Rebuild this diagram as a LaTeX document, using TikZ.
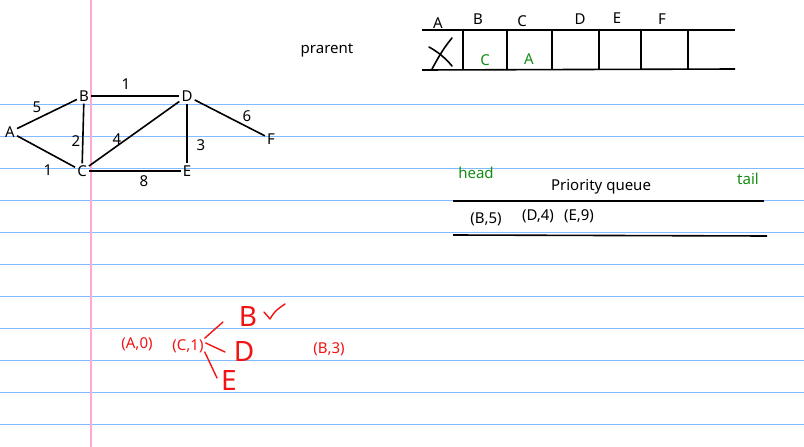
\documentclass[tikz,border=0pt]{standalone}
\usepackage{fontspec}
\setmainfont{Noto Sans}
\usetikzlibrary{calc, positioning}
\usepackage{xcolor}
\definecolor{ruled}{RGB}{128, 188, 255}
\definecolor{margin}{RGB}{255, 168, 212}
\definecolor{pen}{RGB}{240, 20, 20}
\definecolor{note}{RGB}{20, 140, 20}

\begin{document}
\begin{tikzpicture}[x=1pt, y=-1pt, font=\fontsize{15}{18}\selectfont,
  vtx/.style={inner sep=2pt},
  wt/.style={inner sep=1pt},
  edge/.style={line width=1.6pt},
  hand/.style={pen, line width=1.4pt, line cap=round, line join=round},
  big/.style={pen, inner sep=1pt, font=\fontsize{28}{30}\selectfont}]
  % paper
  \useasboundingbox (0,0) rectangle (804,447);
  \fill[white] (0,0) rectangle (804,447);
  \foreach \y in {104,136,...,424}
    \draw[ruled, line width=1pt] (0,\y) -- (804,\y);
  \draw[margin, line width=1.5pt] (91,0) -- (91,447);

  % graph
  \node[vtx] (A) at (10,132) {A};
  \node[vtx] (B) at (84,96) {B};
  \node[vtx] (C) at (82,171) {C};
  \node[vtx] (D) at (187,96) {D};
  \node[vtx] (E) at (187,171) {E};
  \node[vtx] (F) at (271,139) {F};
  \draw[edge] (A) -- (B);
  \draw[edge] (A) -- (C);
  \draw[edge] (B) -- (C);
  \draw[edge] (B) -- (D);
  \draw[edge] (C) -- (D);
  \draw[edge] (C) -- (E);
  \draw[edge] (D) -- (E);
  \draw[edge] (D) -- (F);
  \node[wt] (w-ab) at (37,107) {5};
  \node[wt] (w-ac) at (48,170) {1};
  \node[wt] (w-bc) at (76,141) {2};
  \node[wt] (w-bd) at (126,84) {1};
  \node[wt] (w-cd) at (117,139) {4};
  \node[wt] (w-ce) at (144,181) {8};
  \node[wt] (w-de) at (201,145) {3};
  \node[wt] (w-df) at (247,116) {6};

  % parent table
  \node (prarent) at (327,50) {prarent};
  \draw[edge] (422,30) -- (735,30);
  \draw[edge] (422,70) -- (735,69);
  \foreach \x in {463,507,552,599,641,688}
    \draw[edge] (\x,31) -- (\x,70);
  \foreach \n/\x/\y in {A/438/23, B/478/19, C/522/21, D/580/19, E/617/18, F/662/19}
    \node[wt] (h-\n) at (\x,\y) {\n};
  \node[wt, note] (p-B) at (485,60) {C};
  \node[wt, note] (p-C) at (529,59) {A};
  \draw[edge, line cap=round] (429,47) .. controls (440,53) and (447,60) .. (452,66);
  \draw[edge, line cap=round] (452,38) .. controls (442,50) and (437,60) .. (432,69);

  % priority queue
  \node[note] (head) at (476,173) {head};
  \node[note] (tail) at (748,179) {tail};
  \node (pq) at (601,187) {Priority queue};
  \draw[edge] (453,201) -- (764,201);
  \draw[edge] (453,235) -- (767,236);
  \node[wt] (q1) at (486,219) {(B,5)};
  \node[wt] (q2) at (538,216) {(D,4)};
  \node[wt] (q3) at (579,216) {(E,9)};

  % red notes
  \node[wt, pen] (a0) at (137,344) {(A,0)};
  \node[wt, pen] (c1) at (188,346) {(C,1)};
  \node[wt, pen] (b3) at (329,349) {(B,3)};
  \node[big] (hB) at (248,317) {B};
  \node[big] (hD) at (244,352) {D};
  \node[big] (hE) at (229,381) {E};
  \coordinate (toB) at (223,322);
  \coordinate (toD) at (225,352);
  \coordinate (toE) at (217,378);
  \draw[hand] (c1.north east) -- (toB);
  \draw[hand] ($(c1.east)+(1,-3)$) -- (toD);
  \draw[hand] ($(c1.east)+(0,6)$) -- (toE);
  \draw[hand] (264,312) -- (270,319) .. controls (275,311) .. (285,304);
\end{tikzpicture}
\end{document}
